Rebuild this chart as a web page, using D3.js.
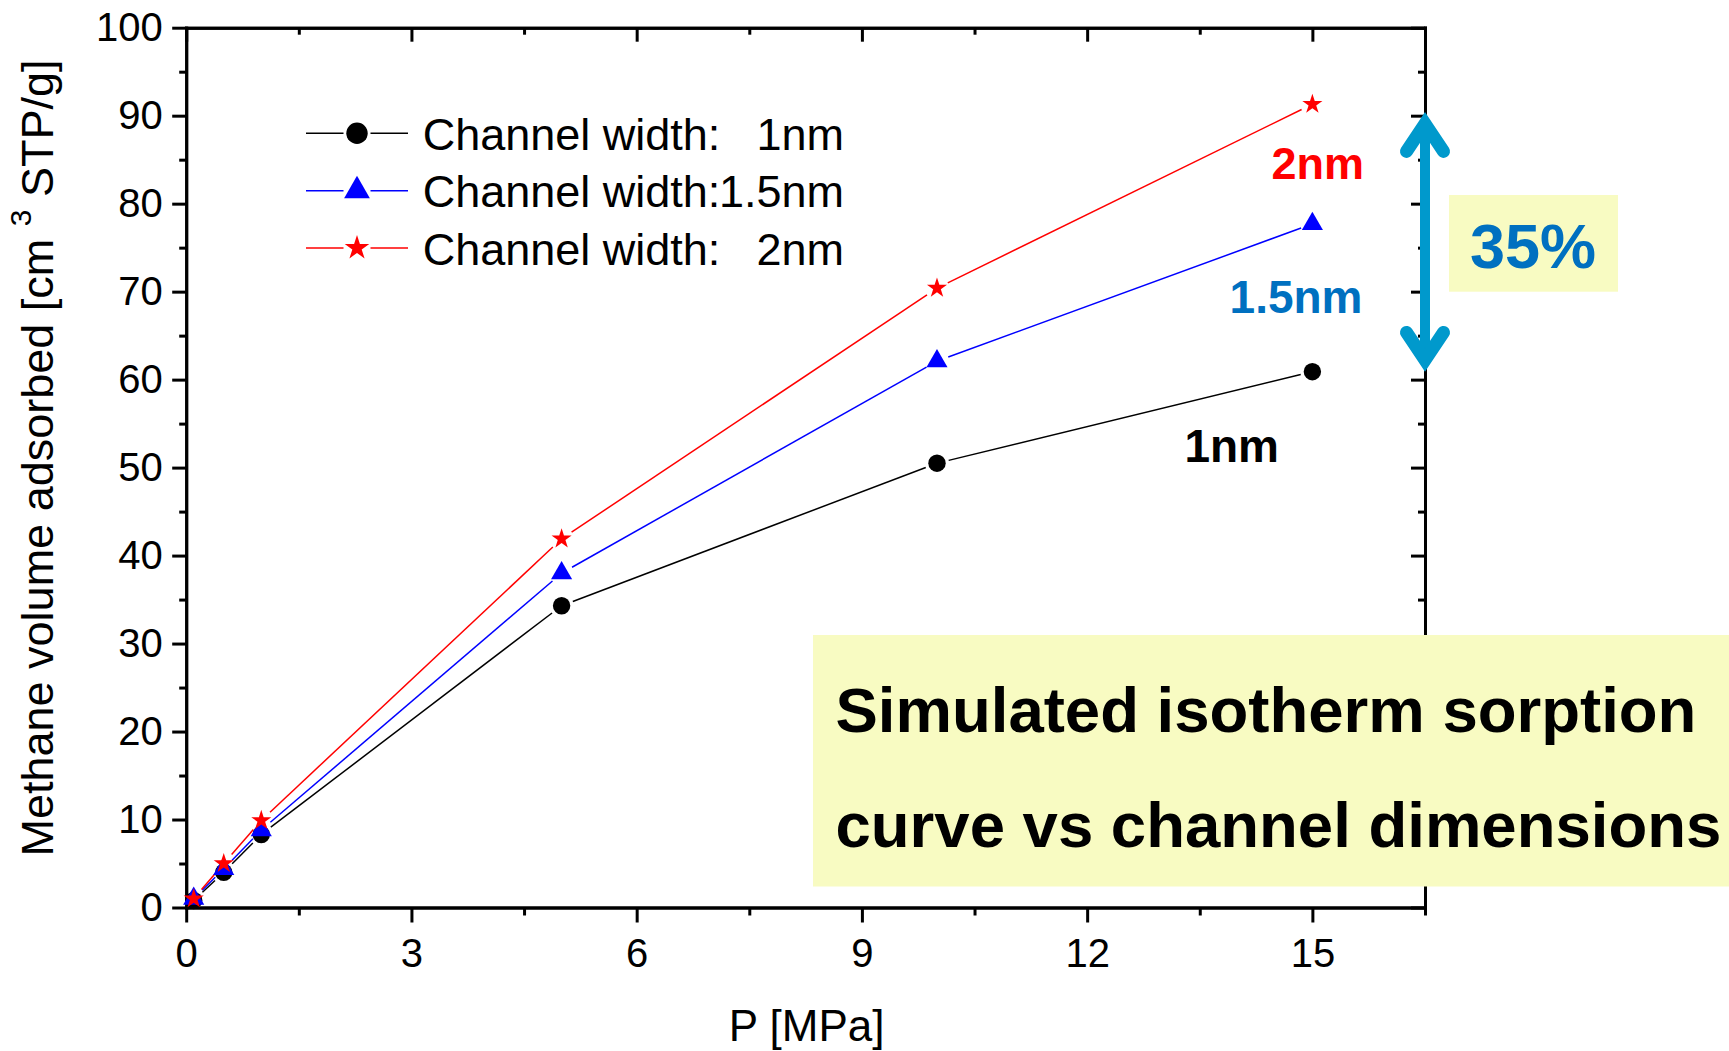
<!DOCTYPE html>
<html>
<head>
<meta charset="utf-8">
<script src="https://cdn.jsdelivr.net/npm/d3@7"></script>
<style>
  body { margin: 0; background: #fff; }
  svg { display: block; }
  svg text { font-family: "Liberation Sans", Arial, Helvetica, sans-serif; }
</style>
</head>
<body>
<svg id="chart" width="1729" height="1051"></svg>
<script>
// ---------------- data ----------------
const pressure = [0.1, 0.5, 1, 5, 10, 15];              // P [MPa]
const width1nm = [0.8, 4.0, 8.3, 34.3, 50.5, 60.9];
const width15nm = [1.0, 4.4, 8.8, 38.0, 62.1, 77.7];
const width2nm = [1.0, 5.0, 9.9, 41.9, 70.4, 91.3];
const legendLabels = ["Channel width:", "Channel width:", "Channel width:"];
const legendValues = ["1nm", "1.5nm", "2nm"];
const xTickValues = [0, 3, 6, 9, 12, 15];
const xMinorTicks = [1.5, 4.5, 7.5, 10.5, 13.5, 16.5];
const yTickValues = [0, 10, 20, 30, 40, 50, 60, 70, 80, 90, 100];
const yMinorTicks = [5, 15, 25, 35, 45, 55, 65, 75, 85, 95];
const arrowRange = [60.9, 90.4];
const xDomain = [0, 16.5];
const yDomain = [0, 100];

const FONT = '"Liberation Sans", Arial, Helvetica, sans-serif';

// ---------------- layout ----------------
const svg = d3.select("#chart");
const L = 186.2, R = 1425, T = 27.7, B = 907.5;
const xs = d3.scaleLinear().domain(xDomain).range([L, R]);
const ys = d3.scaleLinear().domain(yDomain).range([B, T]);

const axisStroke = 3;
function styleAxis(g) {
  g.attr("font-family", FONT);
  g.select(".domain").attr("stroke", "#000").attr("stroke-width", axisStroke).attr("stroke-linecap", "square");
  g.selectAll(".tick line").attr("stroke", "#000").attr("stroke-width", axisStroke);
  g.selectAll(".tick text").attr("fill", "#000").attr("font-size", 40).attr("font-family", FONT);
}

// minor ticks first
svg.append("g").attr("transform", `translate(0,${B})`)
  .call(d3.axisBottom(xs).tickValues(xMinorTicks).tickSize(8).tickSizeOuter(0).tickFormat(""))
  .call(styleAxis);
svg.append("g").attr("transform", `translate(0,${T})`)
  .call(d3.axisTop(xs).tickValues(xMinorTicks).tickSize(-7).tickSizeOuter(0).tickFormat(""))
  .call(styleAxis);
svg.append("g").attr("transform", `translate(${L},0)`)
  .call(d3.axisLeft(ys).tickValues(yMinorTicks).tickSize(7).tickSizeOuter(0).tickFormat(""))
  .call(styleAxis);
svg.append("g").attr("transform", `translate(${R},0)`)
  .call(d3.axisRight(ys).tickValues(yMinorTicks).tickSize(-7).tickSizeOuter(0).tickFormat(""))
  .call(styleAxis);

// major ticks
svg.append("g").attr("transform", `translate(0,${B})`)
  .call(d3.axisBottom(xs).tickValues(xTickValues).tickSize(15).tickPadding(16).tickSizeOuter(0).tickFormat(d3.format("d")))
  .call(styleAxis);
svg.append("g").attr("transform", `translate(0,${T})`)
  .call(d3.axisTop(xs).tickValues(xTickValues).tickSize(-14).tickSizeOuter(0).tickFormat(""))
  .call(styleAxis);
svg.append("g").attr("transform", `translate(${L},0)`)
  .call(d3.axisLeft(ys).tickValues(yTickValues).tickSize(14).tickPadding(9.5).tickSizeOuter(0).tickFormat(d3.format("d")))
  .call(styleAxis);
svg.append("g").attr("transform", `translate(${R},0)`)
  .call(d3.axisRight(ys).tickValues(yTickValues).tickSize(-14).tickSizeOuter(0).tickFormat(""))
  .call(styleAxis);

// axis titles
svg.append("text").attr("x", 806.7).attr("y", 1041).attr("text-anchor", "middle")
  .attr("font-family", FONT).attr("font-size", 44).attr("fill", "#000").text("P [MPa]");
const yl = svg.append("text").attr("transform", "translate(53.3,458) rotate(-90)")
  .attr("font-family", FONT).attr("text-anchor", "middle").attr("font-size", 45).attr("fill", "#000");
yl.append("tspan").text("Methane volume adsorbed [cm ");
yl.append("tspan").attr("font-size", 30).attr("dy", -22).text("3");
yl.append("tspan").attr("dy", 22).text(" STP/g]");

// ---------------- series ----------------
const series = [
  { vals: width1nm, color: "#000000", sym: d3.symbolCircle, size: 238, lsize: 360 },
  { vals: width15nm, color: "#0000FF", sym: d3.symbolTriangle, size: 193, lsize: 287 },
  { vals: width2nm, color: "#FF0000", sym: d3.symbolStar, size: 125, lsize: 187 }
];
const gap = 12;
series.forEach(s => {
  const pts = pressure.map((p, i) => [xs(p), ys(s.vals[i])]);
  const g = svg.append("g");
  for (let i = 0; i < pts.length - 1; i++) {
    const [x1, y1] = pts[i], [x2, y2] = pts[i + 1];
    const d = Math.hypot(x2 - x1, y2 - y1);
    if (d <= 2 * gap) continue;
    const ux = (x2 - x1) / d, uy = (y2 - y1) / d;
    g.append("line")
      .attr("x1", x1 + ux * gap).attr("y1", y1 + uy * gap)
      .attr("x2", x2 - ux * gap).attr("y2", y2 - uy * gap)
      .attr("stroke", s.color).attr("stroke-width", 1.5);
  }
});
series.forEach(s => {
  svg.append("g").selectAll("path").data(pressure).join("path")
    .attr("transform", (p, i) => `translate(${xs(p)},${ys(s.vals[i])})`)
    .attr("d", d3.symbol().type(s.sym).size(s.size)())
    .attr("fill", s.color);
});

// ---------------- legend ----------------
const legendRowY = [133.3, 190.7, 248.0];
series.forEach((s, i) => {
  const y = legendRowY[i];
  const g = svg.append("g").attr("font-family", FONT);
  g.append("line").attr("x1", 306).attr("x2", 343.5).attr("y1", y).attr("y2", y)
    .attr("stroke", s.color).attr("stroke-width", 1.5);
  g.append("line").attr("x1", 370.5).attr("x2", 408).attr("y1", y).attr("y2", y)
    .attr("stroke", s.color).attr("stroke-width", 1.5);
  g.append("path").attr("transform", `translate(357,${y})`)
    .attr("d", d3.symbol().type(s.sym).size(s.lsize)()).attr("fill", s.color);
  g.append("text").attr("x", 422.7).attr("y", y + 16.5).attr("font-size", 45).attr("fill", "#000")
    .text(legendLabels[i]);
  g.append("text").attr("x", 844).attr("y", y + 16.5).attr("font-size", 45).attr("fill", "#000")
    .attr("text-anchor", "end").text(legendValues[i]);
});

// ---------------- annotations ----------------
const ann = svg.append("g").attr("font-family", FONT).attr("font-weight", "bold");
ann.append("text").attr("x", 1364).attr("y", 179.3).attr("text-anchor", "end")
  .attr("font-size", 45).attr("fill", "#FF0000").text("2nm");
ann.append("text").attr("x", 1362.5).attr("y", 313.3).attr("text-anchor", "end")
  .attr("font-size", 46).attr("fill", "#0070C0").text("1.5nm");
ann.append("text").attr("x", 1279).attr("y", 462.3).attr("text-anchor", "end")
  .attr("font-size", 46).attr("fill", "#000").text("1nm");

// 35% box
svg.append("rect").attr("x", 1449).attr("y", 195).attr("width", 169).attr("height", 96.7)
  .attr("fill", "#F8FBC2");
svg.append("text").attr("x", 1533).attr("y", 268.3).attr("text-anchor", "middle")
  .attr("font-family", FONT).attr("font-size", 63).attr("font-weight", "bold").attr("fill", "#0070C0").text("35%");

// double arrow
const arrowColor = "#0099CC";
const ax = R;
const yTop = ys(arrowRange[1]), yBot = ys(arrowRange[0]);
const tipOff = 11.6, armLen = 27.7, armDx = 18.5;
const ag = svg.append("g").attr("fill", "none").attr("stroke", arrowColor);
ag.append("line").attr("x1", ax).attr("x2", ax).attr("y1", yTop + tipOff).attr("y2", yBot - tipOff)
  .attr("stroke-width", 10);
ag.append("path")
  .attr("d", `M${ax - armDx},${yTop + tipOff + armLen} L${ax},${yTop + tipOff} L${ax + armDx},${yTop + tipOff + armLen}`)
  .attr("stroke-width", 13).attr("stroke-linecap", "round").attr("stroke-linejoin", "miter");
ag.append("path")
  .attr("d", `M${ax - armDx},${yBot - tipOff - armLen} L${ax},${yBot - tipOff} L${ax + armDx},${yBot - tipOff - armLen}`)
  .attr("stroke-width", 13).attr("stroke-linecap", "round").attr("stroke-linejoin", "miter");

// big note box
svg.append("rect").attr("x", 813).attr("y", 635).attr("width", 916).attr("height", 251.5)
  .attr("fill", "#F8FBC2");
const note = svg.append("g").attr("font-family", FONT).attr("font-weight", "bold").attr("font-size", 63.5).attr("fill", "#000");
note.append("text").attr("x", 835.5).attr("y", 731.7).text("Simulated isotherm sorption");
note.append("text").attr("x", 835.5).attr("y", 846.7).text("curve vs channel dimensions");
</script>
</body>
</html>
